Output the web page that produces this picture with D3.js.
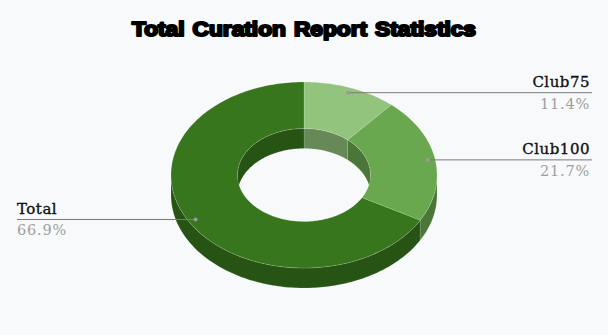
<!DOCTYPE html>
<html><head><meta charset="utf-8">
<script src="https://cdn.jsdelivr.net/npm/d3@7/dist/d3.min.js"></script>
<style>
html,body{margin:0;padding:0;background:#f7f9fb;}
svg{display:block;}
</style></head>
<body>
<script>
const categories = ["Club75", "Club100", "Total"];
const values = [11.4, 21.7, 66.9];
const percentLabels = ["11.4%", "21.7%", "66.9%"];
const colors = ["#93c47d", "#6aa84f", "#38761d"];
const chartTitle = "Total Curation Report Statistics";

const W = 608, H = 335;
const cx = 304, cy = 175, rx = 133, ry = 93, depth = 20, innerRatio = 0.5;

const svg = d3.select("body").append("svg").attr("width", W).attr("height", H);
svg.append("rect").attr("width", W).attr("height", H).attr("fill", "#f7f9fb");

svg.append("text").attr("x", cx).attr("y", 35.5).attr("text-anchor", "middle")
  .attr("font-family", "'Liberation Sans', Arial, sans-serif").attr("font-weight", "bold")
  .attr("font-size", 19.5).attr("fill", "#000").attr("stroke", "#000").attr("stroke-width", 2.1)
  .attr("stroke-linejoin", "round").attr("word-spacing", 1.5)
  .attr("textLength", 344).attr("lengthAdjust", "spacingAndGlyphs")
  .text(chartTitle);

const pie = d3.pie().sort(null).value(d => d)(values);
const rScale = d3.scaleLinear().domain([0, 1]).range([0, 1]);

function pt(theta, r, dy) {
  return [cx + rScale(r) * rx * Math.sin(theta), cy - rScale(r) * ry * Math.cos(theta) + (dy || 0)];
}
function arcPts(a0, a1, r, dy) {
  const n = Math.max(2, Math.ceil(Math.abs(a1 - a0) / 0.02));
  const out = [];
  for (let i = 0; i <= n; i++) out.push(pt(a0 + (a1 - a0) * i / n, r, dy));
  return out;
}
function dark(c) { const r = d3.rgb(c); return d3.rgb(r.r * 0.7, r.g * 0.7, r.b * 0.7).toString(); }
const line = d3.line();
const g = svg.append("g");

// inner walls (back half of hole)
const innerRanges = [[0, Math.PI / 2], [3 * Math.PI / 2, 2 * Math.PI]];
pie.forEach((p, i) => {
  innerRanges.forEach(([lo, hi]) => {
    const s = Math.max(p.startAngle, lo), e = Math.min(p.endAngle, hi);
    if (s < e) {
      const pts = arcPts(s, e, innerRatio, 0).concat(arcPts(e, s, innerRatio, depth));
      g.append("path").attr("d", line(pts) + "Z").attr("fill", dark(colors[i]))
        .attr("stroke", "#fff").attr("stroke-opacity", 0.15).attr("stroke-width", 0.8);
    }
  });
});
// outer walls (front half)
pie.forEach((p, i) => {
  const s = Math.max(p.startAngle, Math.PI / 2), e = Math.min(p.endAngle, 3 * Math.PI / 2);
  if (s < e) {
    const pts = arcPts(s, e, 1, 0).concat(arcPts(e, s, 1, depth));
    g.append("path").attr("d", line(pts) + "Z").attr("fill", dark(colors[i]))
      .attr("stroke", "#fff").attr("stroke-opacity", 0.15).attr("stroke-width", 0.8);
  }
});
// top faces
pie.forEach((p, i) => {
  const pts = arcPts(p.startAngle, p.endAngle, 1, 0).concat(arcPts(p.endAngle, p.startAngle, innerRatio, 0));
  g.append("path").attr("d", line(pts) + "Z").attr("fill", colors[i])
    .attr("stroke", "#fff").attr("stroke-opacity", 0.2).attr("stroke-width", 0.8);
});

// labels
pie.forEach((p, i) => {
  const mid = (p.startAngle + p.endAngle) / 2;
  const [dx, dy] = pt(mid, 0.945, 0);
  const right = mid < Math.PI;
  const x0 = right ? dx : 17, x1 = right ? 592 : dx;
  svg.append("line").attr("x1", x0).attr("x2", x1).attr("y1", dy).attr("y2", dy)
    .attr("stroke", "#7a7a7a").attr("stroke-width", 1);
  svg.append("circle").attr("cx", dx).attr("cy", dy).attr("r", 2).attr("fill", "#9a9a9a");
  const tx = right ? 590 : 17, anchor = right ? "end" : "start";
  svg.append("text").attr("x", tx).attr("y", dy - 5.5).attr("text-anchor", anchor)
    .attr("font-family", "'DejaVu Serif', serif").attr("font-size", 15)
    .attr("stroke", "#111").attr("stroke-width", 0.35)
    .attr("letter-spacing", 0.5).attr("fill", "#111").text(categories[i]);
  svg.append("text").attr("x", tx).attr("y", dy + 16).attr("text-anchor", anchor)
    .attr("font-family", "'DejaVu Serif', serif").attr("font-size", 14.5)
    .attr("letter-spacing", 0.8).attr("fill", "#9e9e9e").text(percentLabels[i]);
});
</script>
</body></html>
